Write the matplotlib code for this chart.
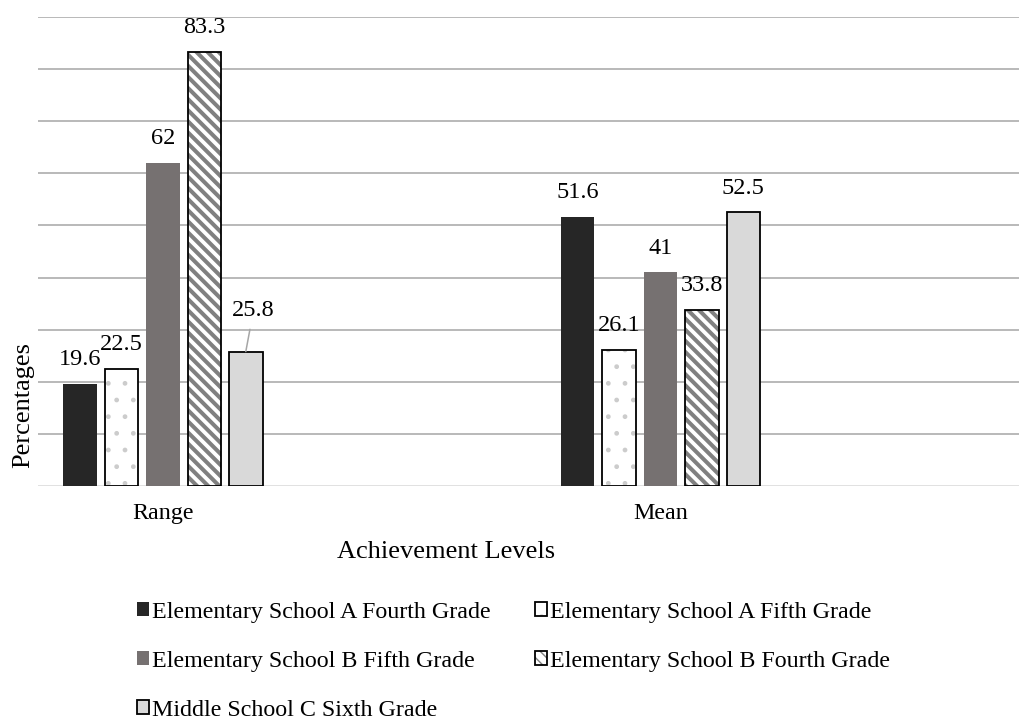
import matplotlib.pyplot as plt
from matplotlib.legend_handler import HandlerTuple
import numpy as np

plt.rcParams['font.family'] = ['Liberation Serif', 'DejaVu Serif']

categories = ['Range', 'Mean']
series_names = ['Elementary School A Fourth Grade',
                'Elementary School A Fifth Grade',
                'Elementary School B Fifth Grade',
                'Elementary School B Fourth Grade',
                'Middle School C Sixth Grade']
a_fourth = [19.6, 51.6]
a_fifth = [22.5, 26.1]
b_fifth = [62, 41]
b_fourth = [83.3, 33.8]
c_sixth = [25.8, 52.5]
values = [a_fourth, a_fifth, b_fifth, b_fourth, c_sixth]

fig = plt.figure(figsize=(10.2, 7.21), dpi=100)
ax = fig.add_axes([38 / 1020, (721 - 486) / 721, 1 - 38 / 1020, 469 / 721])

x = np.arange(len(categories))
step = 0.0832
width = 0.0673

# gridlines
for v in range(10, 91, 10):
    ax.axhline(v, color='#a6a6a6', lw=1.1, zorder=0)
ax.axhline(0, color='#d9d9d9', lw=1.1, zorder=0)

handles = []
for i, vals in enumerate(values):
    pos = x + (i - 2) * step
    if i == 0:
        ax.bar(pos, vals, width, color='#262626', lw=0, zorder=2)
        h = plt.Rectangle((0, 0), 1, 1, fc='#262626', lw=0)
    elif i == 2:
        ax.bar(pos, vals, width, color='#767171', lw=0, zorder=2)
        h = plt.Rectangle((0, 0), 1, 1, fc='#767171', lw=0)
    elif i == 4:
        ax.bar(pos, vals, width, color='#d9d9d9', edgecolor='black', lw=1.3, zorder=2)
        h = plt.Rectangle((0, 0), 1, 1, fc='#d9d9d9', ec='black', lw=1.3)
    else:
        if i == 1:
            hatch, hcol, hlw = '.', '#cccccc', 1.0
        else:
            hatch, hcol, hlw = '\\\\\\', '#808080', 2.9
        with plt.rc_context({'hatch.linewidth': hlw}):
            ax.bar(pos, vals, width, color='white', edgecolor=hcol, lw=0,
                   hatch=hatch, zorder=2)
            h1 = plt.Rectangle((0, 0), 1, 1, fc='white', ec=hcol, lw=0, hatch=hatch)
        ax.bar(pos, vals, width, fill=False, edgecolor='black', lw=1.3, zorder=3)
        h2 = plt.Rectangle((0, 0), 1, 1, fill=False, ec='black', lw=1.3)
        h = (h1, h2)
    handles.append(h)

    for xi, v in zip(pos, vals):
        if v == 25.8:
            # this label sits off to the side with a leader line
            ax.annotate(f'{v:g}', xy=(xi, v), xytext=(5.5, 29.5), textcoords='offset points',
                        ha='center', va='center', fontsize=17.5, zorder=4,
                        arrowprops=dict(arrowstyle='-', color='#a6a6a6', lw=1.1,
                                        shrinkA=4, shrinkB=0))
        else:
            ax.annotate(f'{v:g}', xy=(xi, v), xytext=(0, 17.5), textcoords='offset points',
                        ha='center', va='center', fontsize=17.5, zorder=4)

ax.set_xlim(-0.2513, 1.7226)
ax.set_ylim(0, 90)
ax.set_yticks([])
ax.set_xticks(x)
ax.set_xticklabels(categories, fontsize=17.3)
ax.tick_params(axis='x', length=0, pad=12)
for s in ax.spines.values():
    s.set_visible(False)

fig.text(446 / 1020, 1 - 552 / 721, 'Achievement Levels', ha='center', va='center', fontsize=19)
fig.text(23 / 1020, 1 - 405 / 721, 'Percentages', ha='center', va='center',
         rotation=90, fontsize=19)

order = [0, 2, 4, 1, 3]
fig.legend([handles[k] for k in order], [series_names[k] for k in order],
           handler_map={tuple: HandlerTuple(ndivide=1)},
           loc='upper left', bbox_to_anchor=(127 / 1020, 1 - 592 / 721),
           ncol=2, frameon=False, fontsize=17.3, handlelength=0.5, handleheight=0.5,
           handletextpad=0.15, columnspacing=1.83, labelspacing=1.17, borderaxespad=0)

fig.savefig('out.png', dpi=100)
